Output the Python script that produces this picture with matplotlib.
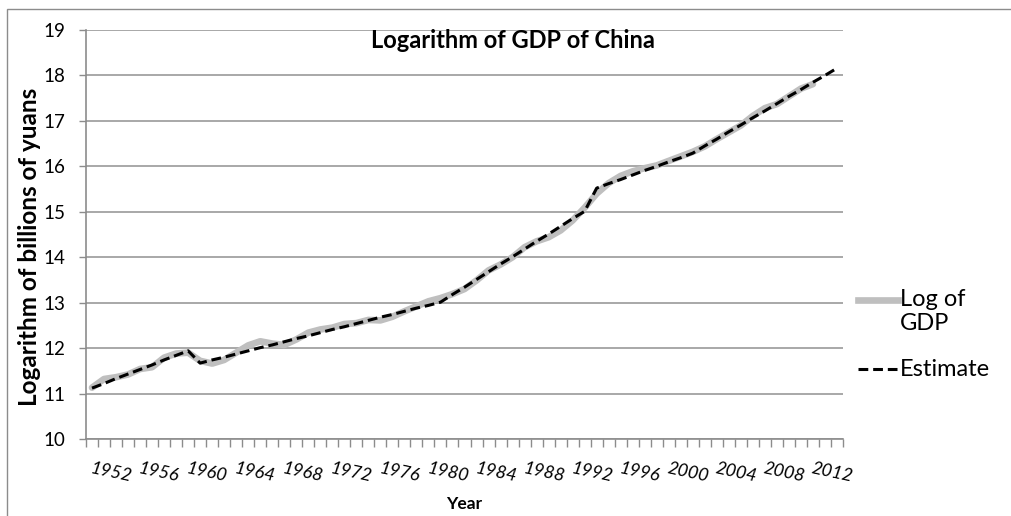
import matplotlib.pyplot as plt
import matplotlib.patches as patches
from matplotlib.lines import Line2D

plt.rcParams['font.family'] = ['Lato', 'DejaVu Sans']

# categories: 1952..2014 (63 years)
years = list(range(1952, 2015))
# log of GDP (millions of yuan), 1952..2012
log_gdp = [11.13, 11.32, 11.36, 11.42, 11.54, 11.58, 11.79, 11.88, 11.90, 11.72,
           11.66, 11.74, 11.90, 12.06, 12.15, 12.10, 12.07, 12.19, 12.34, 12.41,
           12.45, 12.53, 12.55, 12.62, 12.61, 12.69, 12.81, 12.92, 13.03, 13.10,
           13.19, 13.30, 13.49, 13.71, 13.84, 14.00, 14.22, 14.35, 14.44, 14.59,
           14.81, 15.09, 15.40, 15.63, 15.79, 15.89, 15.96, 16.02, 16.12, 16.22,
           16.32, 16.44, 16.60, 16.75, 16.90, 17.11, 17.28, 17.37, 17.54, 17.71,
           17.81]
# estimate, 1952..2014
estimate = [11.12, 11.22, 11.33, 11.43, 11.53, 11.63, 11.74, 11.84, 11.94,
            11.67, 11.74, 11.80, 11.87, 11.94, 12.01, 12.07, 12.14, 12.21, 12.27,
            12.34, 12.41, 12.47, 12.54, 12.61, 12.68, 12.74, 12.81, 12.88, 12.94,
            13.01,
            13.18, 13.34, 13.51, 13.68, 13.85, 14.01, 14.18, 14.35, 14.51, 14.68,
            14.85, 15.01,
            15.52, 15.62, 15.71, 15.81, 15.91, 16.00, 16.10, 16.19, 16.29,
            16.45, 16.60, 16.76, 16.91, 17.07, 17.22, 17.38, 17.54, 17.69, 17.85,
            18.00, 18.16]
label_years = list(range(1952, 2013, 4))

GRAY = '#bfbfbf'
DASH = (3.2, 1.6)

fig = plt.figure(figsize=(10.11, 5.16), dpi=100)
ax = fig.add_axes([86/1011, 1-439/516, (843-86)/1011, (439-30)/516])

xs = list(range(len(years)))
ax.plot(xs[:len(log_gdp)], log_gdp, color=GRAY, lw=4.8,
        solid_capstyle='round', solid_joinstyle='round')
ax.plot(xs, estimate, color='black', lw=2.2, ls='--', dashes=DASH)

ax.set_xlim(-0.5, len(years)-0.5)
ax.set_ylim(10, 19)
ax.set_yticks(range(10, 20))
ax.grid(axis='y', color='#999999', lw=1.2)
ax.set_axisbelow(True)

for s in ['top', 'right']:
    ax.spines[s].set_visible(False)
for s in ['left', 'bottom']:
    ax.spines[s].set_color('#8c8c8c')
    ax.spines[s].set_linewidth(1.2)

ax.tick_params(axis='y', length=5, color='#8c8c8c', width=1, pad=10, labelsize=13.5)
ax.set_xticks([years.index(y) for y in label_years],
              [str(y) for y in label_years],
              rotation=-12, ha='left', rotation_mode='anchor', style='italic')
ax.set_xticks([i - 0.5 for i in range(len(years)+1)], minor=True)
ax.tick_params(axis='x', which='major', length=0, pad=15, labelsize=13)
ax.tick_params(axis='x', which='minor', length=6, color='#8c8c8c', width=1)

fig.text(513/1011, 1-40/516, 'Logarithm of GDP of China', ha='center', va='center',
         fontsize=17, fontweight='bold')
fig.text(464/1011, 1-504/516, 'Year', ha='center', va='center',
         fontsize=12.5, fontweight='bold')
fig.text(30/1011, 1-247/516, 'Logarithm of billions of yuans', ha='center',
         va='center', rotation=90, fontsize=17.5, fontweight='bold')

# legend, drawn by hand so the gray key sits on the first text line
fig.add_artist(Line2D([858/1011, 898/1011], [1-300/516, 1-300/516],
                      transform=fig.transFigure, color=GRAY, lw=4.8))
fig.text(900/1011, 1-300/516, 'Log of', ha='left', va='center', fontsize=17)
fig.text(900/1011, 1-324/516, 'GDP', ha='left', va='center', fontsize=17)
fig.add_artist(Line2D([858/1011, 897/1011], [1-369/516, 1-369/516],
                      transform=fig.transFigure, color='black', lw=2.2,
                      ls='--', dashes=DASH))
fig.text(900/1011, 1-369/516, 'Estimate', ha='left', va='center', fontsize=17)

# chart border
fig.add_artist(patches.Rectangle((6.5/1011, -0.1), 1.2, 1-9/516+0.1,
                                 transform=fig.transFigure, fill=False,
                                 edgecolor='#8c8c8c', lw=1))

fig.savefig('out.png', dpi=100)
